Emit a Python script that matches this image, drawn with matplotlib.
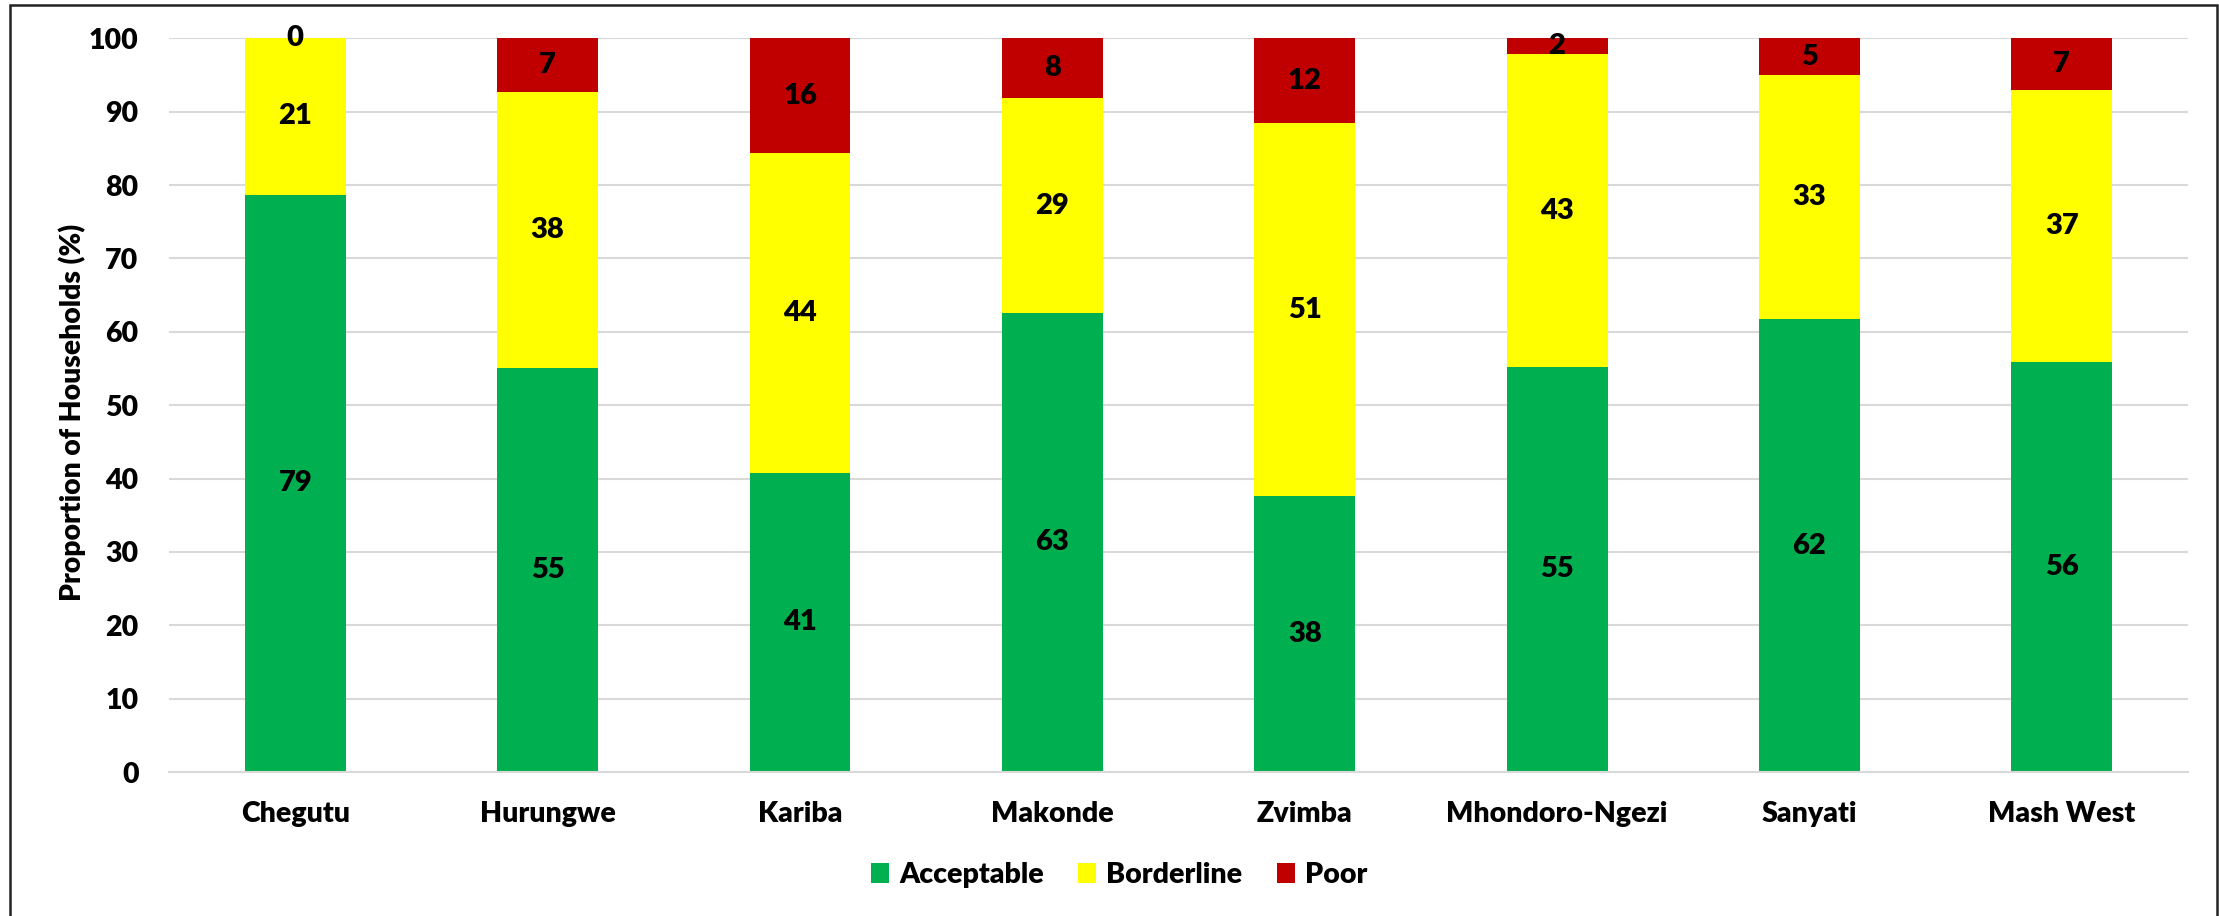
import matplotlib.pyplot as plt
from matplotlib.patches import Rectangle
import numpy as np

# 各区 FCS 分组占比 (%)
districts = ['Chegutu', 'Hurungwe', 'Kariba', 'Makonde', 'Zvimba',
             'Mhondoro-Ngezi', 'Sanyati', 'Mash West']
acceptable = [78.7, 55.0, 40.8, 62.6, 37.6, 55.2, 61.7, 55.9]
borderline = [21.3, 37.7, 43.6, 29.2, 50.8, 42.6, 33.3, 37.0]
poor = [0.0, 7.3, 15.6, 8.2, 11.6, 2.2, 5.0, 7.1]

series = [('Acceptable', acceptable, '#00B050'),
          ('Borderline', borderline, '#FFFF00'),
          ('Poor', poor, '#C00000')]

W = 'heavy'
plt.rcParams['font.family'] = ['Lato', 'DejaVu Sans']
plt.rcParams['font.weight'] = W

fig = plt.figure(figsize=(22.19, 9.16), dpi=100)
ax = fig.add_axes([0.0762, 0.1572, 0.9098, 0.801])

x = np.arange(len(districts))
bottom = np.zeros(len(districts))
for name, vals, color in series:
    bars = ax.bar(x, vals, 0.4, bottom=bottom, color=color, label=name, zorder=2)
    ax.bar_label(bars, labels=['%.0f' % v for v in vals], label_type='center',
                 fontsize=21, fontweight=W, color='black')
    bottom += np.array(vals)

ax.set_xlim(-0.5, len(districts) - 0.5)
ax.set_ylim(0, 100)
ax.set_yticks(range(0, 101, 10))
ax.set_xticks(x)
ax.set_xticklabels(districts, fontsize=20.5, fontweight=W)
for t in ax.get_yticklabels():
    t.set_fontweight(W)
ax.tick_params(axis='y', length=0, labelsize=20.5, pad=22)
ax.tick_params(axis='x', length=0, pad=21)
ax.grid(axis='y', color='#d9d9d9', linewidth=1.5, zorder=0)
ax.set_axisbelow(True)
for s in ['left', 'right', 'top']:
    ax.spines[s].set_visible(False)
ax.spines['bottom'].set_color('#d9d9d9')
ax.spines['bottom'].set_linewidth(1.5)

ax.set_ylabel('Proportion of Households (%)', fontsize=20.3, fontweight=W)
ax.yaxis.set_label_coords(-0.041, 0.49)

fig.legend(loc='center', bbox_to_anchor=(1119 / 2219, 1 - 875 / 916), ncol=3,
           frameon=False, prop={'size': 20.5, 'weight': W},
           handlelength=0.65, handleheight=0.65,
           handletextpad=0.35, columnspacing=1.2)

# 外框
fig.patches.append(Rectangle((10 / 2219, -0.01), 2207 / 2219, 1.01 - 5 / 916,
                             transform=fig.transFigure, fill=False,
                             edgecolor='#222222', linewidth=1.8))

plt.savefig('out.png', dpi=100)
